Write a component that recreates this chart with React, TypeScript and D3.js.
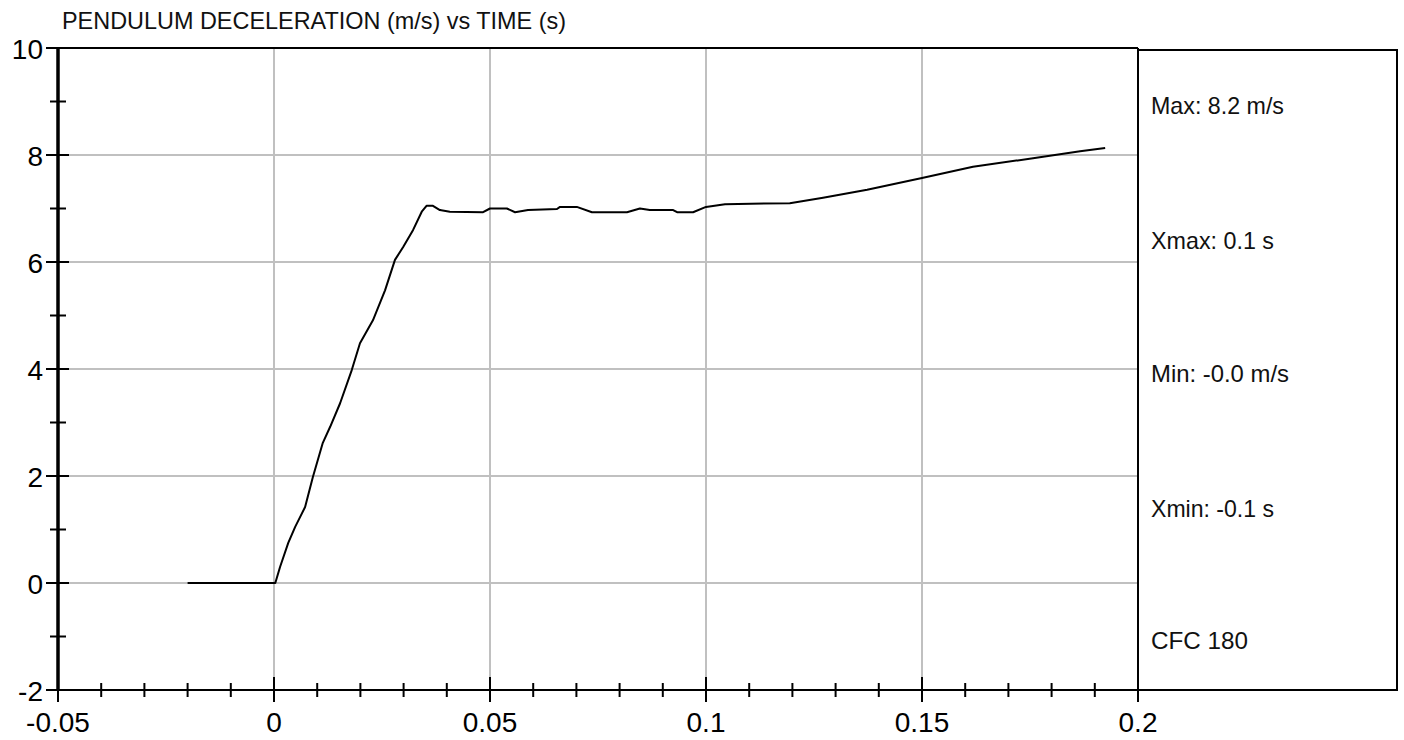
import React from "react";
import * as d3 from "d3";

const timeS: number[] = [-0.02, 0, 0.0003, 0.0014, 0.0033, 0.0049, 0.0072, 0.009, 0.0113, 0.013, 0.0153, 0.018, 0.0199, 0.0229, 0.0257, 0.028, 0.0299, 0.0322, 0.0342, 0.0353, 0.0368, 0.0384, 0.0407, 0.0484, 0.05, 0.0539, 0.0558, 0.0588, 0.0655, 0.0662, 0.0701, 0.0736, 0.0817, 0.0847, 0.087, 0.0924, 0.0933, 0.097, 0.1, 0.1044, 0.1194, 0.1271, 0.1373, 0.15, 0.1618, 0.1757, 0.1866, 0.1924];
const decel: number[] = [0, 0, 0, 0.3, 0.75, 1.05, 1.42, 1.98, 2.62, 2.92, 3.36, 3.98, 4.48, 4.91, 5.47, 6.04, 6.28, 6.6, 6.94, 7.05, 7.05, 6.97, 6.94, 6.93, 7.0, 7.0, 6.93, 6.97, 6.99, 7.03, 7.03, 6.93, 6.93, 7.0, 6.97, 6.97, 6.93, 6.93, 7.03, 7.08, 7.1, 7.2, 7.35, 7.57, 7.78, 7.94, 8.07, 8.13];

const xMajorTicks: number[] = [-0.05, 0, 0.05, 0.1, 0.15, 0.2];
const xTickLabels: string[] = ["-0.05", "0", "0.05", "0.1", "0.15", "0.2"];
const yMajorTicks: number[] = [-2, 0, 2, 4, 6, 8, 10];
const yTickLabels: string[] = ["-2", "0", "2", "4", "6", "8", "10"];
const yMinorTicks: number[] = [-1, 1, 3, 5, 7, 9];

const title = "PENDULUM DECELERATION (m/s) vs TIME (s)";
const infoLines: string[] = ["Max: 8.2 m/s", "Xmax: 0.1 s", "Min: -0.0 m/s", "Xmin: -0.1 s", "CFC 180"];
const infoWidths: number[] = [133, 123, 138, 123, 97];

const W = 1404;
const H = 740;
const L = 58, R = 1138, T = 48, B = 690;
const narrow = "'Liberation Sans Narrow', 'Arial Narrow', 'Liberation Sans', Arial, sans-serif";
const sans = "'Liberation Sans', Arial, sans-serif";

export default function App() {
  const x = d3.scaleLinear().domain([-0.05, 0.2]).range([L, R]);
  const y = d3.scaleLinear().domain([-2, 10]).range([B, T]);
  const xMinor = d3.range(-50, 201, 10).map((v) => v / 1000).filter((v) => !xMajorTicks.some((m) => Math.abs(m - v) < 1e-9));
  const line = d3.line<number>().x((_, i) => x(timeS[i])).y((d) => y(d));
  const infoY = [105, 240, 373, 508, 640];
  const gray = "#c0c0c0";

  return (
    <svg width={W} height={H} style={{ position: "absolute", left: 0, top: 0, background: "#fff" }}>
      <rect x={0} y={0} width={W} height={H} fill="#fff" />
      <text x={62} y={29} fontFamily={narrow} fontSize={24} textLength={504} lengthAdjust="spacingAndGlyphs" fill="#111">{title}</text>
      {/* gridlines */}
      {xMajorTicks.slice(1, -1).map((v) => (
        <line key={"gx" + v} x1={x(v)} x2={x(v)} y1={T} y2={B} stroke={gray} strokeWidth={2} />
      ))}
      {yMajorTicks.slice(1, -1).map((v) => (
        <line key={"gy" + v} x1={L} x2={R} y1={y(v)} y2={y(v)} stroke={gray} strokeWidth={2} />
      ))}
      {/* frame */}
      <line x1={L} x2={R} y1={T} y2={T} stroke="#000" strokeWidth={2} />
      <line x1={R} x2={R} y1={T} y2={B} stroke="#000" strokeWidth={2} />
      <line x1={L} x2={R} y1={B} y2={B} stroke="#000" strokeWidth={2} />
      <line x1={L} x2={L} y1={T - 1} y2={B + 1} stroke="#000" strokeWidth={3.5} />
      {/* right info panel */}
      <rect x={R} y={T + 2} width={1397 - R} height={B - T - 2} fill="none" stroke="#000" strokeWidth={2} />
      {infoLines.map((s, i) => (
        <text key={s} x={1151} y={infoY[i]} dy="0.36em" fontFamily={narrow} fontSize={24} textLength={infoWidths[i]} lengthAdjust="spacingAndGlyphs" fill="#111">{s}</text>
      ))}
      {/* y ticks */}
      {yMajorTicks.map((v, i) => (
        <g key={"yt" + v}>
          <line x1={L - 12} x2={L + 11} y1={y(v)} y2={y(v)} stroke="#000" strokeWidth={2} />
          <text x={43} y={y(v) + 1} dy="0.36em" textAnchor="end" fontFamily={sans} fontSize={28} fill="#000">{yTickLabels[i]}</text>
        </g>
      ))}
      {yMinorTicks.map((v) => (
        <line key={"ym" + v} x1={L - 8} x2={L + 8} y1={y(v)} y2={y(v)} stroke="#000" strokeWidth={2} />
      ))}
      {/* x ticks */}
      {xMajorTicks.map((v, i) => (
        <g key={"xt" + v}>
          <line x1={x(v)} x2={x(v)} y1={B - 13} y2={B + 12} stroke="#000" strokeWidth={2} />
          <text x={x(v)} y={722} dy="0.36em" textAnchor="middle" fontFamily={sans} fontSize={28} fill="#000">{xTickLabels[i]}</text>
        </g>
      ))}
      {xMinor.map((v) => (
        <line key={"xm" + v} x1={x(v)} x2={x(v)} y1={B - 7} y2={B + 7} stroke="#000" strokeWidth={2} />
      ))}
      {/* data */}
      <path d={line(decel) || ""} fill="none" stroke="#000" strokeWidth={2} strokeLinejoin="round" />
    </svg>
  );
}
